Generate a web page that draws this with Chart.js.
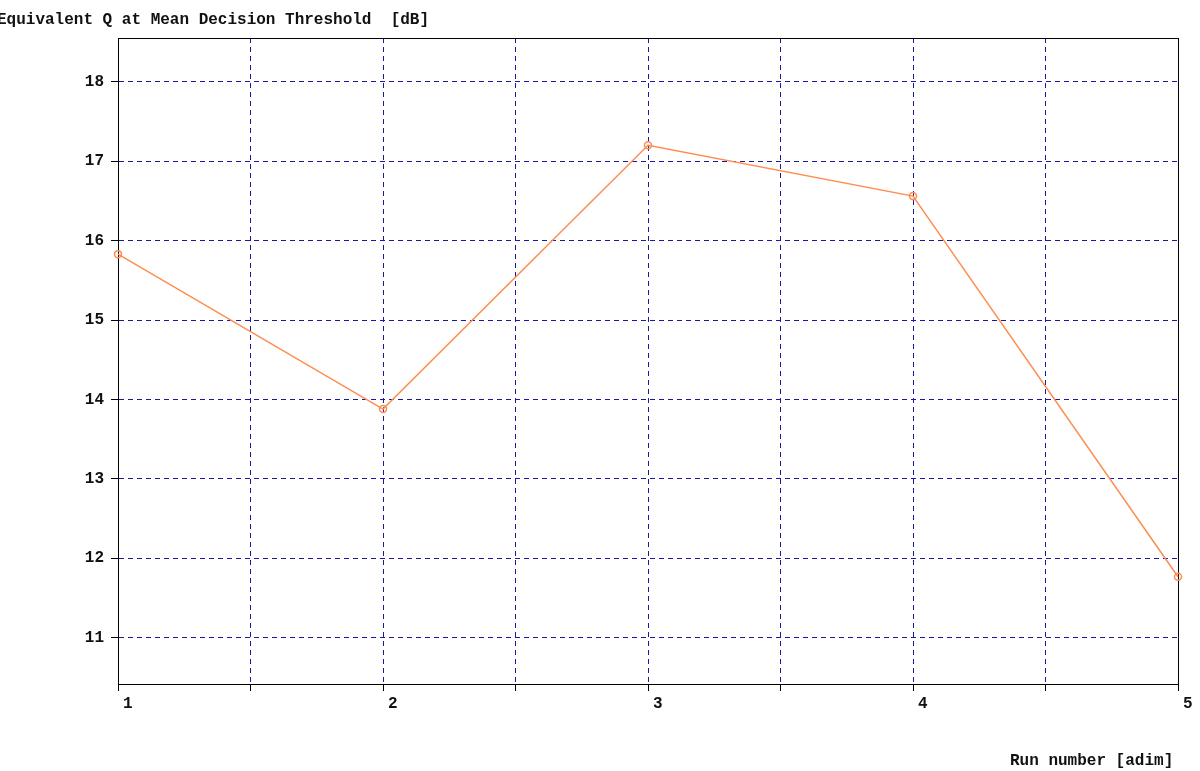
<!DOCTYPE html>
<html>
<head>
<meta charset="utf-8">
<script src="https://cdn.jsdelivr.net/npm/chart.js@4/dist/chart.umd.min.js"></script>
<style>
  html, body { margin: 0; padding: 0; background: #fff; }
  canvas { display: block; }
</style>
</head>
<body>
<canvas id="chart" width="1200" height="771"></canvas>
<script>
// data
const runNumbers = [1, 2, 3, 4, 5];
const qValues = [15.83, 13.88, 17.2, 16.56, 11.77];
const xTicks = [1, 1.5, 2, 2.5, 3, 3.5, 4, 4.5, 5];
const yTicks = [11, 12, 13, 14, 15, 16, 17, 18];
const yTitle = "Equivalent Q at Mean Decision Threshold  [dB]";
const xTitle = "Run number [adim]";

const FONT = "'Liberation Mono', 'Courier New', monospace";
Chart.defaults.font.family = FONT;
Chart.defaults.font.size = 16;
Chart.defaults.font.weight = "bold";
Chart.defaults.color = "#111";

const gridBlue = "rgb(24, 24, 160)";
const lineOrange = "rgb(255, 140, 80)";

// black box round the plot area + the two axis titles
const frame = {
  id: "frame",
  beforeDatasetsDraw(chart) {
    const { ctx, chartArea: a } = chart;
    ctx.save();
    ctx.strokeStyle = "#000";
    ctx.lineWidth = 1;
    ctx.strokeRect(Math.round(a.left) + 0.5, Math.round(a.top) + 0.5,
      Math.round(a.right - a.left), Math.round(a.bottom - a.top));
    ctx.restore();
  },
  afterDraw(chart) {
    const ctx = chart.ctx;
    ctx.save();
    ctx.fillStyle = "#111";
    ctx.font = "bold 16px " + FONT;
    ctx.textBaseline = "alphabetic";
    ctx.textAlign = "left";
    ctx.fillText(yTitle, -3, 24);
    ctx.fillText(xTitle, 1010, 765);
    ctx.restore();
  }
};

new Chart(document.getElementById("chart"), {
  type: "line",
  data: {
    datasets: [{
      data: runNumbers.map((x, i) => ({ x: x, y: qValues[i] })),
      borderColor: lineOrange,
      borderWidth: 1.5,
      pointRadius: 3.5,
      pointBorderWidth: 1.5,
      pointBorderColor: lineOrange,
      pointBackgroundColor: "rgba(255,255,255,0)",
      tension: 0,
      clip: false
    }]
  },
  options: {
    responsive: false,
    animation: false,
    layout: { padding: { left: 0, top: 38, right: 22, bottom: 0 } },
    plugins: { legend: { display: false }, tooltip: { enabled: false } },
    scales: {
      x: {
        type: "linear",
        min: 1,
        max: 5,
        afterBuildTicks: (scale) => { scale.ticks = xTicks.map(v => ({ value: v })); },
        afterFit: (scale) => { scale.height = 87; },
        grid: { color: gridBlue, lineWidth: 1, tickLength: 7, tickColor: "#000", tickWidth: 1, tickBorderDash: [] },
        border: { display: true, color: "#000", width: 1, dash: [5, 4] },
        ticks: {
          autoSkip: false,
          maxRotation: 0,
          minRotation: 0,
          align: "start",
          labelOffset: 5,
          padding: 3,
          callback: (v) => Number.isInteger(v) ? String(v) : ""
        }
      },
      y: {
        min: 10.42,
        max: 18.55,
        afterBuildTicks: (scale) => { scale.ticks = yTicks.map(v => ({ value: v })); },
        afterFit: (scale) => { scale.width = 118; },
        grid: { color: gridBlue, lineWidth: 1, tickLength: 7, tickColor: "#000", tickWidth: 1, tickBorderDash: [] },
        border: { display: true, color: "#000", width: 1, dash: [5, 4] },
        ticks: { padding: 7, callback: (v) => String(v) }
      }
    }
  },
  plugins: [frame]
});
</script>
</body>
</html>
